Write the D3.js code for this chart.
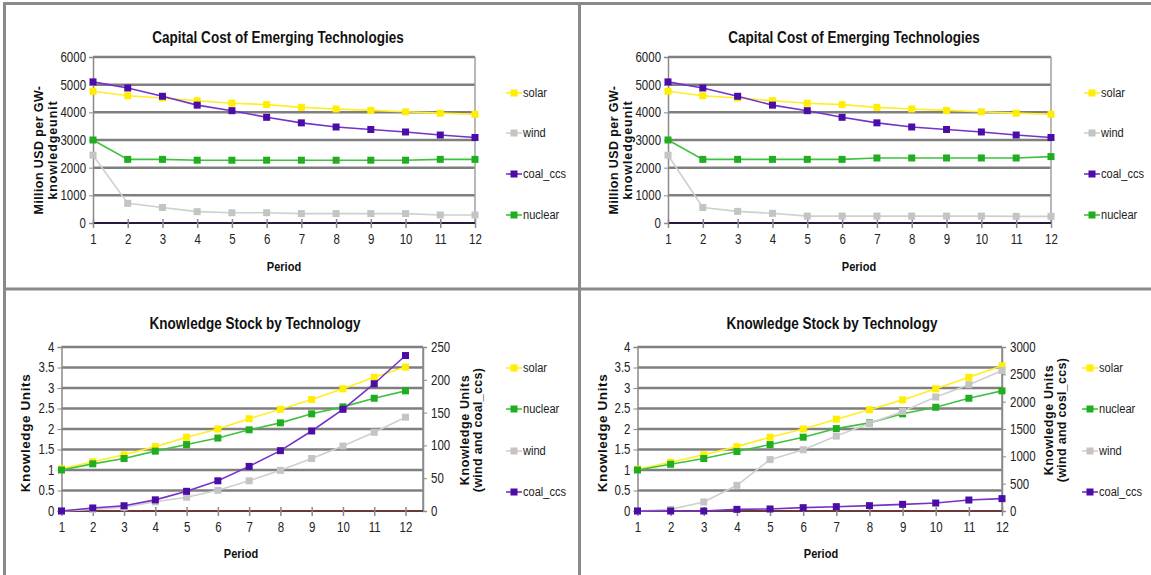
<!DOCTYPE html>
<html><head><meta charset="utf-8">
<script src="https://cdn.jsdelivr.net/npm/d3@7"></script>
<style>body{margin:0;background:#fff;} svg{display:block;}</style>
</head><body>
<svg id="c" width="1151" height="575"></svg>
<script>
// ---------- data ----------
const periods = [1,2,3,4,5,6,7,8,9,10,11,12];

// Capital cost (left run)
const costSolarA   = [4760,4600,4520,4420,4330,4280,4180,4120,4070,4020,3970,3930];
const costWindA    = [2450,710,560,410,370,370,340,340,340,340,290,290];
const costCoalA    = [5100,4880,4580,4260,4060,3820,3620,3470,3380,3290,3180,3090];
const costNuclearA = [3000,2300,2300,2270,2270,2270,2270,2270,2270,2270,2300,2300];
// Capital cost (right run)
const costSolarB   = [4760,4600,4520,4420,4330,4280,4180,4120,4070,4020,3970,3930];
const costWindB    = [2450,560,420,350,250,250,250,250,250,250,240,240];
const costCoalB    = [5100,4880,4580,4260,4060,3820,3620,3470,3380,3290,3180,3090];
const costNuclearB = [3000,2300,2300,2300,2300,2300,2350,2350,2350,2350,2350,2400];

// Knowledge stock (left run)
const knowSolarA   = [1.03,1.2,1.37,1.57,1.8,2.0,2.25,2.48,2.72,2.98,3.26,3.51];
const knowNuclearA = [1.0,1.15,1.28,1.46,1.62,1.78,1.98,2.15,2.37,2.54,2.75,2.93];
const knowWindA    = [0,2.5,5.6,14,21,31.5,46,62,80,99,120,143];
const knowCoalA    = [0,4.6,8,17,30,46,68,92,122,155,194,237];
// Knowledge stock (right run)
const knowSolarB   = [1.02,1.19,1.37,1.57,1.8,2.0,2.24,2.47,2.71,2.98,3.26,3.54];
const knowNuclearB = [1.0,1.14,1.28,1.45,1.62,1.8,2.01,2.15,2.37,2.53,2.75,2.93];
const knowWindB    = [0,30,165,470,940,1120,1370,1600,1820,2085,2310,2570];
const knowCoalB    = [0,0,0,30,37,61,79,98,122,146,201,226];

const costTicks = [0,1000,2000,3000,4000,5000,6000];
const knowTicks = [0,0.5,1,1.5,2,2.5,3,3.5,4];
const knowRightTicksA = [0,50,100,150,200,250];
const knowRightTicksB = [0,500,1000,1500,2000,2500,3000];

const titleCost = "Capital Cost of Emerging Technologies";
const titleKnow = "Knowledge Stock by Technology";

// ---------- styles ----------
const colors = {
  solar:   {line:"#ffee22", mark:"#ffee00"},
  wind:    {line:"#cfcfcf", mark:"#c4c4c4"},
  coal_ccs:{line:"#7433c8", mark:"#4c0ca6"},
  nuclear: {line:"#3ec23e", mark:"#20ad20"}
};
const FONT = "'Liberation Sans',Arial,sans-serif";
const SQUEEZE = 0.82;

// emulate a narrow face: scale glyphs horizontally about the text's anchor x
function narrow(sel){
  sel.each(function(){
    const ax = +(this.getAttribute("x") || 0);
    d3.select(this).attr("transform", `matrix(${SQUEEZE},0,0,1,${(1-SQUEEZE)*ax},0)`);
  });
}

const svg = d3.select("#c");

// panel frames
const frame = svg.append("g").attr("stroke","#8a8a8a").attr("stroke-width",3).attr("fill","none");
frame.append("line").attr("x1",3).attr("x2",1151).attr("y1",3.5).attr("y2",3.5);
frame.append("line").attr("x1",4.5).attr("x2",4.5).attr("y1",2).attr("y2",575);
frame.append("line").attr("x1",579.5).attr("x2",579.5).attr("y1",2).attr("y2",575);
frame.append("line").attr("x1",3).attr("x2",1151).attr("y1",289).attr("y2",289);

function drawPanel(p){
  const g = svg.append("g");
  const x = d3.scalePoint().domain(periods).range([p.x1, p.x12]);
  const y = d3.scaleLinear().domain([p.ticks[0], p.ticks[p.ticks.length-1]]).range([p.bottom, p.top]);
  const y2 = p.rightTicks ? d3.scaleLinear().domain([p.rightTicks[0], p.rightTicks[p.rightTicks.length-1]]).range([p.bottom, p.top]) : null;
  const fmt = d => String(d);

  // gridlines
  g.append("g").selectAll("line").data(p.ticks.slice(1)).join("line")
    .attr("x1",p.left).attr("x2",p.right)
    .attr("y1",d=>y(d)).attr("y2",d=>y(d))
    .attr("stroke","#7f7f7f").attr("stroke-width",2.5);
  // right border
  g.append("line").attr("x1",p.right).attr("x2",p.right).attr("y1",p.top).attr("y2",p.bottom)
    .attr("stroke", p.rightTicks ? "#8a8a8a" : "#a0a0a0").attr("stroke-width",1.5);

  // left axis
  const la = g.append("g").attr("transform",`translate(${p.left},0)`)
    .call(d3.axisLeft(y).tickValues(p.ticks).tickFormat(fmt).tickSize(4).tickPadding(3));
  la.select(".domain").attr("stroke","#8a8a8a").attr("stroke-width",1.5);
  la.selectAll(".tick line").attr("stroke","#8a8a8a");
  la.selectAll("text").attr("font-family",FONT).attr("font-size",14).attr("fill","#222").call(narrow);

  // right axis
  if (y2){
    const ra = g.append("g").attr("transform",`translate(${p.right},0)`)
      .call(d3.axisRight(y2).tickValues(p.rightTicks).tickFormat(fmt).tickSize(4).tickPadding(4));
    ra.select(".domain").attr("stroke","#8a8a8a").attr("stroke-width",1.5);
    ra.selectAll(".tick line").attr("stroke","#8a8a8a");
    ra.selectAll("text").attr("font-family",FONT).attr("font-size",14).attr("fill","#222").call(narrow);
  }

  // x axis
  const xa = g.append("g").attr("transform",`translate(0,${p.bottom})`)
    .call(d3.axisBottom(x).tickSize(5).tickPadding(6).tickSizeOuter(0));
  xa.select(".domain").attr("d",`M${p.left},0H${p.right}`).attr("stroke",p.baseColor).attr("stroke-width",2);
  xa.selectAll(".tick line").attr("y1",-4).attr("y2",5).attr("stroke","#8a8a8a").attr("stroke-width",1.5);
  xa.selectAll("text").attr("font-family",FONT).attr("font-size",14).attr("fill","#222").call(narrow);

  // series
  p.series.forEach(s=>{
    const ys = s.axis === 2 ? y2 : y;
    const pts = periods.map((d,i)=>[d, s.values[i]]);
    g.append("path").datum(pts)
      .attr("fill","none").attr("stroke",colors[s.name].line).attr("stroke-width",1.6)
      .attr("d", d3.line().x(d=>x(d[0])).y(d=>ys(d[1])));
    g.append("g").selectAll("rect").data(pts).join("rect")
      .attr("x",d=>x(d[0])-3.5).attr("y",d=>ys(d[1])-3.5)
      .attr("width",7).attr("height",7).attr("fill",colors[s.name].mark);
  });

  // title
  g.append("text").attr("x",p.titleX).attr("y",p.titleY).attr("text-anchor","middle")
    .attr("font-family",FONT).attr("font-weight","bold").attr("font-size",16.5).attr("fill","#111")
    .text(p.title).call(narrow);
  // x title
  g.append("text").attr("x",p.xTitleX).attr("y",p.xTitleY).attr("text-anchor","middle")
    .attr("font-family",FONT).attr("font-weight","bold").attr("font-size",13.5).attr("fill","#111")
    .text("Period").call(narrow);
  // y titles
  p.yTitles.forEach(t=>{
    g.append("text").attr("transform",`translate(${t.x},${t.y}) rotate(-90)`)
      .attr("text-anchor","middle").attr("font-family",FONT).attr("font-weight","bold")
      .attr("font-size",t.size).attr("letter-spacing",t.ls).attr("fill","#111").text(t.text);
  });

  // legend
  p.series.forEach((s,i)=>{
    const ly = p.legendY[i];
    g.append("line").attr("x1",p.legendX-8).attr("x2",p.legendX+8).attr("y1",ly).attr("y2",ly)
      .attr("stroke",colors[s.name].line).attr("stroke-width",1.6);
    g.append("rect").attr("x",p.legendX-3.5).attr("y",ly-3.5).attr("width",7).attr("height",7)
      .attr("fill",colors[s.name].mark);
    g.append("text").attr("x",p.legendX+9).attr("y",ly+4.5)
      .attr("font-family",FONT).attr("font-size",13.5).attr("fill","#222").text(s.name).call(narrow);
  });
}

// Top-left
drawPanel({
  left:93, right:475, x1:93, x12:475, top:57, bottom:223, ticks:costTicks, baseColor:"#2a1a3a",
  title:titleCost, titleX:278, titleY:43, xTitleX:284, xTitleY:271,
  yTitles:[{text:"Million USD per GW-",x:43,y:150,size:12.5,ls:0.4},{text:"knowledgeunit",x:57,y:150,size:12.5,ls:0.9}],
  legendX:514, legendY:[93,133,174,215],
  series:[{name:"solar",values:costSolarA},{name:"wind",values:costWindA},
          {name:"coal_ccs",values:costCoalA},{name:"nuclear",values:costNuclearA}]
});
// Top-right
drawPanel({
  left:668, right:1051, x1:668, x12:1051, top:57, bottom:223, ticks:costTicks, baseColor:"#2a1a3a",
  title:titleCost, titleX:854, titleY:43, xTitleX:859, xTitleY:271,
  yTitles:[{text:"Million USD per GW-",x:618,y:150,size:12.5,ls:0.4},{text:"knowledgeunit",x:632,y:150,size:12.5,ls:0.9}],
  legendX:1092, legendY:[93,133,174,215],
  series:[{name:"solar",values:costSolarB},{name:"wind",values:costWindB},
          {name:"coal_ccs",values:costCoalB},{name:"nuclear",values:costNuclearB}]
});
// Bottom-left
drawPanel({
  left:61.5, right:423, x1:61.5, x12:405.5, top:347, bottom:511, ticks:knowTicks, rightTicks:knowRightTicksA, baseColor:"#6a3a3a",
  title:titleKnow, titleX:255, titleY:329, xTitleX:241, xTitleY:558,
  yTitles:[{text:"Knowledge Units",x:30,y:433,size:13.5,ls:0.6},
           {text:"Knowledge Units",x:469,y:430,size:12.5,ls:0.6},{text:"(wind and coal_ccs)",x:482,y:430,size:12.5,ls:0.3}],
  legendX:514, legendY:[368,409,451,492],
  series:[{name:"solar",values:knowSolarA},{name:"nuclear",values:knowNuclearA},
          {name:"wind",values:knowWindA,axis:2},{name:"coal_ccs",values:knowCoalA,axis:2}]
});
// Bottom-right
drawPanel({
  left:637.5, right:1002, x1:637.5, x12:1002, top:347, bottom:511, ticks:knowTicks, rightTicks:knowRightTicksB, baseColor:"#6a3a3a",
  title:titleKnow, titleX:832, titleY:329, xTitleX:821, xTitleY:558,
  yTitles:[{text:"Knowledge Units",x:607,y:433,size:13.5,ls:0.6},
           {text:"Knowledge Units",x:1053,y:420,size:12.5,ls:0.6},{text:"(wind and cosl_ccs)",x:1066,y:420,size:12.5,ls:0.3}],
  legendX:1090, legendY:[368,409,451,492],
  series:[{name:"solar",values:knowSolarB},{name:"nuclear",values:knowNuclearB},
          {name:"wind",values:knowWindB,axis:2},{name:"coal_ccs",values:knowCoalB,axis:2}]
});
</script>
</body></html>
